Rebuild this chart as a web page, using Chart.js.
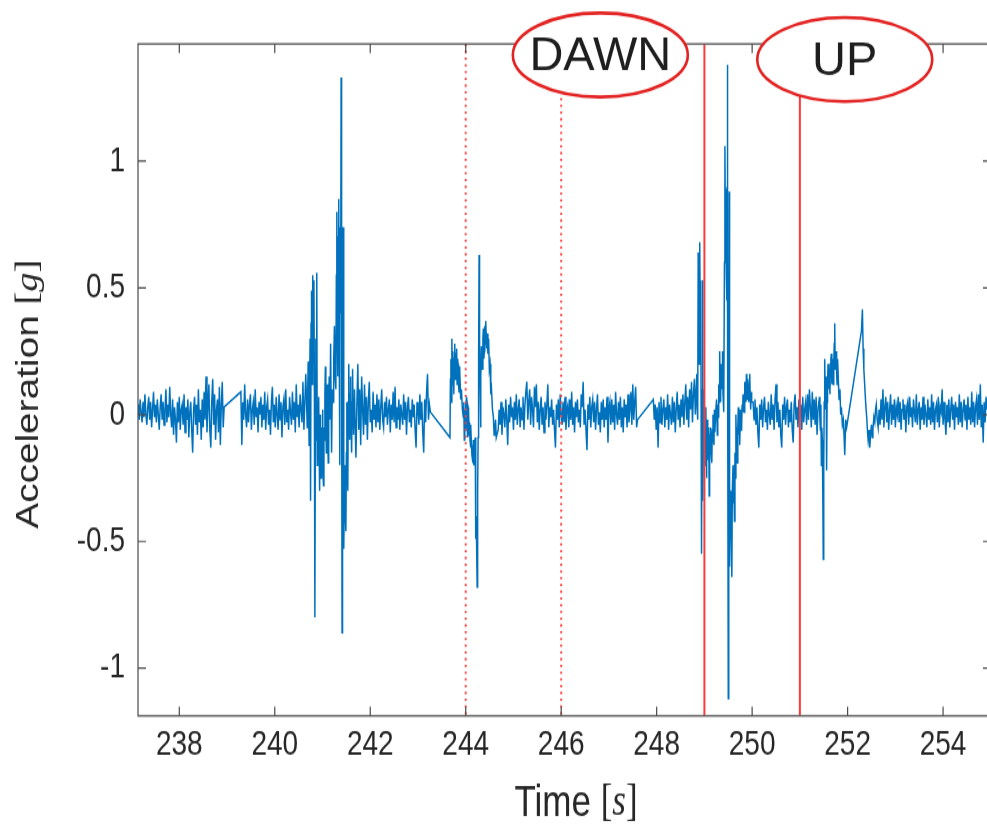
<!DOCTYPE html>
<html>
<head>
<meta charset="utf-8">
<script src="https://cdn.jsdelivr.net/npm/chart.js@4.4.1/dist/chart.umd.min.js"></script>
<style>
  html, body { margin: 0; padding: 0; background: #fff; overflow: hidden; width: 987px; height: 831px; }
  /* the source figure is stretched vertically, so the canvas is too */
  #accelChart { display: block; transform-origin: 0 0; transform: scaleY(1.2496); }
</style>
</head>
<body>
<canvas id="accelChart" width="987" height="665"></canvas>
<script>
const STRETCH = 1.2496;

const xTicks = [238, 240, 242, 244, 246, 248, 250, 252, 254];
const yTicks = [-1, -0.5, 0, 0.5, 1];
const xLimits = [237.135, 254.92];
const yLimits = [-1.188, 1.462];

// quiet stretches, sampled every 0.02 s from the given start
const sampleStep = 0.02;
const quietStarts = [237.14, 239.29, 241.74, 244.68, 247.93, 250.02, 252.68];
const quiet1 = [0.04,-0.02,0.06,0.01,-0.03,0.05,-0.01,0.08,0.0,-0.04,
  0.03,0.07,-0.02,0.05,-0.05,0.02,0.09,-0.01,0.04,-0.03,
  0.06,0.0,-0.06,0.03,0.08,-0.02,0.05,-0.04,0.02,0.1,
  -0.03,0.04,-0.01,0.11,0.0,-0.05,0.06,-0.08,0.03,-0.02,
  -0.11,0.05,-0.03,0.07,-0.06,0.02,0.04,-0.04,0.08,-0.07,
  0.03,-0.02,0.06,-0.09,0.01,0.05,-0.06,-0.15,0.02,0.07,
  -0.04,0.04,-0.08,0.1,-0.03,0.02,-0.1,0.06,-0.05,0.09,
  -0.02,0.15,-0.07,0.03,0.12,-0.06,-0.13,0.05,0.14,-0.04,
  0.08,-0.1,0.02,0.06,-0.07,0.11,-0.12,0.04,0.13,-0.05,
  0.03];
const quiet2 = [0.09,-0.12,0.05,-0.02,0.12,0.0,-0.05,0.06,-0.03,0.04,
  0.08,-0.06,0.02,0.05,-0.04,0.1,-0.01,0.03,-0.07,0.05,
  0.0,0.07,-0.05,0.04,-0.02,0.09,-0.06,0.03,0.06,-0.04,
  0.02,-0.08,0.05,0.11,-0.03,0.04,-0.05,0.07,0.0,-0.06,
  0.08,-0.02,0.05,-0.09,0.03,0.06,-0.04,0.1,-0.03,0.02,
  -0.06,0.07,0.01,-0.04,0.09,-0.02,0.05,-0.07,0.12,-0.01,
  0.04,-0.05,0.08,0.02,-0.03,0.13,-0.06,0.05,0.16];
const quiet3 = [0.2,-0.06,0.1,-0.12,0.15,0.02,-0.08,0.12,-0.04,0.07,
  -0.1,0.05,0.13,-0.03,0.02,-0.07,0.09,-0.02,0.04,-0.05,
  0.08,-0.03,0.06,-0.06,0.03,0.1,-0.02,-0.05,0.05,-0.01,
  0.07,-0.04,0.02,0.06,-0.07,0.04,-0.02,0.09,-0.03,0.11,
  -0.05,0.03,-0.02,0.06,-0.06,0.04,0.0,-0.04,0.08,-0.02,
  0.05,-0.08,0.03,0.07,-0.03,0.02,-0.05,0.06,-0.01,0.04,
  -0.06,-0.13,0.05,0.02,-0.04,0.08,-0.02,0.05,-0.07,-0.15,
  0.06,-0.03,0.09,0.16,-0.02,0.04,0.01];
const quiet4 = [-0.06,0.02,-0.04,0.05,-0.08,0.03,0.0,-0.05,0.06,-0.02,
  -0.12,0.04,-0.03,0.07,-0.01,0.03,-0.06,0.05,-0.02,0.08,
  -0.04,0.02,0.06,-0.05,0.03,-0.02,0.07,-0.06,0.04,0.09,
  0.13,-0.02,0.05,0.1,-0.04,0.07,0.02,-0.05,0.11,0.03,
  0.12,-0.03,0.05,-0.06,0.02,0.07,-0.04,0.03,-0.07,0.05,
  -0.02,0.04,0.12,-0.05,0.03,-0.01,0.06,-0.04,0.02,-0.06,
  -0.13,0.04,-0.02,0.06,-0.05,0.08,0.0,-0.04,0.05,-0.03,
  0.07,-0.06,0.02,0.04,-0.05,0.06,-0.02,0.09,-0.04,0.03,
  -0.07,0.05,-0.01,0.06,-0.03,0.02,-0.05,0.08,0.03,0.13,
  -0.04,0.02,-0.06,-0.14,0.04,-0.02,0.07,-0.05,0.03,0.06,
  -0.03,0.05,-0.06,0.02,0.08,-0.04,0.01,-0.07,0.05,-0.02,
  0.06,-0.05,0.03,-0.02,0.07,-0.11,0.02,0.05,-0.04,0.06,
  -0.03,0.04,-0.06,0.09,0.0,-0.04,0.05,-0.02,0.07,-0.05,
  0.03,-0.07,0.06,-0.01,0.04,-0.05,0.08,-0.03,0.02,0.09,
  -0.04,0.12,-0.02,0.05,0.11,-0.05,-0.02];
const quiet5 = [0.06,-0.02,0.04,-0.06,0.03,-0.13,0.05,-0.03,0.07,-0.04,
  0.02,0.06,-0.05,0.03,-0.02,0.08,-0.06,0.04,0.0,-0.04,
  0.07,-0.03,0.05,-0.07,0.02,0.09,-0.02,0.04,-0.05,0.06,
  -0.01,0.08,-0.04,0.05,0.12,-0.02,0.07,-0.05,0.1,0.02,
  0.13,-0.03,0.08,0.14,0.0];
const quiet6 = [0.05,-0.02,0.06,-0.04,0.03,-0.07,-0.13,0.04,-0.02,0.06,
  -0.05,0.03,0.07,-0.03,0.02,-0.06,0.05,0.0,-0.04,0.08,
  -0.02,0.04,-0.06,0.06,0.12,-0.03,0.05,-0.05,0.02,-0.08,
  -0.13,0.04,-0.02,0.07,-0.04,0.03,0.06,-0.05,0.02,-0.03,
  0.05,-0.06,-0.11,0.04,0.08,-0.02,0.03,-0.05,0.06,-0.01,
  0.04,-0.06,0.07,-0.03,0.02,0.05,-0.04,0.08,-0.02,0.1,
  0.03,-0.05,0.09,-0.02,0.06,-0.04,0.07,-0.08,0.02];
const quiet7 = [-0.04,0.06,-0.02,0.1,-0.05,0.03,0.07,-0.03,0.05,-0.06,
  0.02,0.08,-0.04,0.04,-0.02,0.06,-0.05,0.03,0.0,0.07,
  -0.03,0.05,-0.06,0.02,0.06,-0.02,0.04,-0.07,0.03,0.05,
  -0.04,0.07,-0.01,0.03,-0.05,0.06,0.01,-0.03,0.08,-0.04,
  0.02,0.05,-0.06,0.03,-0.02,0.07,-0.04,0.04,0.0,-0.05,
  0.06,-0.02,0.03,-0.04,0.08,-0.03,0.05,-0.06,0.02,0.04,
  -0.03,0.07,-0.05,0.03,0.01,0.1,-0.04,0.05,-0.02,-0.08,
  0.04,-0.03,0.06,-0.05,0.02,0.07,-0.02,0.04,-0.06,0.05,
  -0.01,0.03,-0.04,0.08,-0.03,0.05,-0.05,0.02,0.06,-0.02,
  0.04,-0.06,0.07,-0.02,0.03,-0.04,0.09,-0.03,0.05,-0.05,
  0.03,0.06,-0.04,0.08,-0.02,0.12,-0.05,0.04,-0.11,0.05,
  -0.03,0.07,0.02];

// bursts, read point by point as [time s, acceleration g]
const burst1 = [[240.68,-0.05],[240.69,0.08],[240.70,0.21],[240.71,0.02],[240.72,-0.12],[240.73,0.10],
  [240.74,0.30],[240.75,-0.34],[240.76,0.36],[240.77,0.49],[240.78,0.12],[240.79,0.55],[240.80,0.30],
  [240.81,0.20],[240.82,0.53],[240.83,0.10],[240.84,-0.80],[240.85,-0.10],[240.86,0.30],[240.87,-0.05],
  [240.88,0.56],[240.89,-0.20],[240.90,-0.10],[240.91,0.05],[240.92,0.07],[240.93,-0.15],[240.94,-0.30],
  [240.95,0.00],[240.96,-0.05],[240.97,-0.25],[240.98,-0.22],[240.99,-0.05],[241.00,0.02],[241.01,-0.20],
  [241.02,-0.28],[241.03,-0.05],[241.04,-0.10],[241.05,0.08],[241.06,0.19],[241.07,-0.05],[241.08,-0.15],
  [241.09,0.05],[241.10,0.12],[241.11,-0.08],[241.12,-0.19],[241.13,0.02],[241.14,0.15],[241.155,-0.02],
  [241.17,0.28],[241.18,0.05],[241.19,-0.15],[241.205,0.10],[241.22,0.05],[241.235,0.22],[241.25,0.35],
  [241.265,0.15],[241.28,0.10],[241.29,0.55],[241.30,0.80],[241.31,0.35],[241.32,0.15],[241.33,0.70],
  [241.34,0.85],[241.35,0.30],[241.36,-0.20],[241.365,0.50],[241.37,0.74],[241.38,0.40],[241.39,1.33],
  [241.40,0.30],[241.41,-0.86],[241.42,0.20],[241.43,0.74],[241.44,-0.10],[241.45,-0.53],[241.46,-0.30],
  [241.47,-0.20],[241.48,-0.40],[241.49,-0.46],[241.50,-0.15],[241.51,0.05],[241.52,-0.20],[241.53,-0.30],
  [241.54,0.05],[241.55,0.20],[241.56,0.00],[241.57,-0.10],[241.58,0.08],[241.59,0.15],[241.60,-0.05],
  [241.61,-0.15],[241.62,0.05],[241.63,0.18],[241.64,0.02],[241.65,-0.08],[241.66,0.06],[241.67,0.10],
  [241.685,-0.05],[241.70,-0.17],[241.72,0.04]];
const burst2 = [[243.67,-0.09],[243.68,0.14],[243.69,0.22],[243.70,0.05],[243.71,0.30],[243.72,0.12],
  [243.73,0.25],[243.74,0.18],[243.75,0.08],[243.76,0.22],[243.77,0.28],[243.78,0.14],[243.79,0.15],
  [243.80,0.24],[243.81,0.26],[243.82,0.12],[243.83,0.22],[243.84,0.20],[243.85,0.12],[243.86,0.09],
  [243.87,0.19],[243.88,0.17],[243.895,0.06],[243.91,0.10],[243.93,0.02],[243.95,-0.01],[243.96,0.05],
  [243.97,-0.10],[243.98,0.02],[243.99,-0.06],[244.00,0.04],[244.02,0.07],[244.03,-0.04],[244.04,-0.09],
  [244.05,0.03],[244.06,0.02],[244.07,-0.08],[244.08,-0.03],[244.09,-0.10],[244.10,-0.13],[244.11,-0.04],
  [244.12,-0.12],[244.13,-0.16],[244.15,-0.19],[244.16,-0.10],[244.17,-0.20],[244.185,-0.12],[244.20,-0.09],
  [244.21,-0.49],[244.22,-0.40],[244.24,-0.68],[244.25,-0.30],[244.26,-0.09],[244.27,0.20],[244.28,0.63],
  [244.29,0.30],[244.30,0.14],[244.31,-0.05],[244.32,0.15],[244.33,0.27],[244.34,0.20],[244.35,0.18],
  [244.36,0.30],[244.37,0.34],[244.38,0.22],[244.39,0.25],[244.40,0.35],[244.41,0.28],[244.42,0.37],
  [244.43,0.30],[244.44,0.26],[244.45,0.32],[244.465,0.24],[244.48,0.30],[244.495,0.18],[244.51,0.20],
  [244.525,0.08],[244.54,0.10],[244.56,0.02],[244.58,-0.01],[244.595,-0.08],[244.61,-0.06],[244.625,-0.02],
  [244.64,-0.09]];
const burst3 = [[248.84,0.16],[248.85,0.02],[248.86,-0.02],[248.87,0.64],[248.88,0.30],[248.89,0.20],
  [248.90,0.55],[248.905,0.68],[248.915,0.30],[248.925,0.53],[248.93,0.10],[248.94,-0.55],[248.95,0.05],
  [248.96,0.53],[248.965,0.10],[248.97,-0.34],[248.98,-0.10],[248.99,0.10],[249.00,-0.15],[249.01,-0.05],
  [249.02,-0.20],[249.03,0.03],[249.04,-0.12],[249.045,-0.25],[249.05,-0.08],[249.06,-0.02],[249.07,-0.18],
  [249.08,-0.15],[249.09,-0.05],[249.10,-0.32],[249.11,-0.12],[249.12,-0.08],[249.13,-0.05],[249.14,-0.15],
  [249.155,-0.19],[249.165,-0.06],[249.18,0.00],[249.19,-0.10],[249.20,-0.12],[249.21,0.02],[249.22,-0.07],
  [249.23,-0.02],[249.24,0.02],[249.255,0.06],[249.27,-0.08],[249.28,0.04],[249.29,-0.01],[249.30,0.12],
  [249.31,0.05],[249.32,0.25],[249.33,0.12],[249.34,0.05],[249.35,0.20],[249.36,0.10],[249.37,0.18],
  [249.38,0.25],[249.39,0.08],[249.40,0.15],[249.41,0.01],[249.42,0.60],[249.43,1.06],[249.44,0.70],
  [249.45,0.89],[249.46,0.55],[249.47,0.45],[249.475,0.90],[249.48,1.38],[249.49,0.40],[249.50,-1.12],
  [249.51,-0.20],[249.52,0.88],[249.525,0.20],[249.53,-0.60],[249.54,-0.30],[249.555,-0.39],[249.565,-0.50],
  [249.575,-0.64],[249.585,-0.30],[249.60,-0.20],[249.61,-0.35],[249.62,-0.25],[249.63,-0.42],[249.64,-0.15],
  [249.65,-0.25],[249.66,0.00],[249.67,-0.12],[249.68,-0.05],[249.69,-0.19],[249.70,-0.05],[249.71,0.03],
  [249.72,-0.08],[249.73,0.02],[249.74,-0.12],[249.75,-0.03],[249.76,0.02],[249.77,-0.06],[249.78,-0.05],
  [249.79,0.04],[249.80,0.01],[249.81,0.08],[249.82,0.03],[249.83,0.01],[249.84,0.10],[249.85,0.13],
  [249.86,0.07],[249.87,0.05],[249.88,0.16],[249.89,0.09],[249.90,0.06],[249.91,0.14],[249.92,0.11],
  [249.93,0.05],[249.94,0.12],[249.95,0.16],[249.96,0.07],[249.97,0.02],[249.98,0.09],[249.99,0.05]];
const burst4 = [[251.41,0.07],[251.42,-0.02],[251.43,-0.06],[251.44,0.04],[251.45,-0.20],[251.46,-0.05],
  [251.47,-0.10],[251.48,-0.30],[251.49,-0.57],[251.50,-0.20],[251.51,0.05],[251.52,0.22],[251.53,0.10],
  [251.54,0.02],[251.55,0.15],[251.56,-0.22],[251.57,0.05],[251.58,0.12],[251.59,0.20],[251.60,0.12],
  [251.61,0.10],[251.62,0.18],[251.63,0.08],[251.64,0.20],[251.65,0.22],[251.66,0.24],[251.67,0.12],
  [251.68,0.14],[251.69,0.22],[251.70,0.12],[251.71,0.20],[251.72,0.28],[251.73,0.36],[251.74,0.18],
  [251.75,0.20],[251.76,0.25],[251.77,0.16],[251.78,0.12],[251.79,0.22],[251.80,0.17],[251.82,0.06],
  [251.84,0.10],[251.855,0.00],[251.87,0.03],[251.89,-0.04],[251.91,-0.02],[251.925,-0.08],[251.94,-0.16],
  [251.96,-0.02],[251.98,-0.05],[252.29,0.33],[252.31,0.415],[252.325,0.26],[252.34,0.18],[252.36,0.11],
  [252.38,0.04],[252.40,-0.01],[252.415,-0.06],[252.43,-0.10],[252.45,-0.06],[252.465,-0.13],[252.48,-0.08],
  [252.50,-0.04],[252.515,-0.09],[252.53,-0.06],[252.55,-0.01],[252.57,-0.03],[252.585,0.02],[252.60,0.04],
  [252.62,-0.02],[252.64,-0.05],[252.66,0.02]];

const cueTimes = [244, 246];   // dotted red markers
const markTimes = [249, 251];  // solid red markers
const tagLabels = ["DAWN", "UP"];
const tagTimes = [246.82, 251.94];

function quietPoints(start, values) {
  return values.map((v, i) => ({ x: +(start + i * sampleStep).toFixed(3), y: v }));
}
function burstPoints(pairs) {
  return pairs.map(([t, v]) => ({ x: t, y: v }));
}

const points = [
  ...quietPoints(quietStarts[0], quiet1),
  ...quietPoints(quietStarts[1], quiet2),
  ...burstPoints(burst1),
  ...quietPoints(quietStarts[2], quiet3),
  ...burstPoints(burst2),
  ...quietPoints(quietStarts[3], quiet4),
  ...quietPoints(quietStarts[4], quiet5),
  ...burstPoints(burst3),
  ...quietPoints(quietStarts[5], quiet6),
  ...burstPoints(burst4),
  ...quietPoints(quietStarts[6], quiet7),
];

function drawParts(ctx, parts, cx, cy) {
  let total = 0;
  parts.forEach((p) => {
    ctx.font = p.font;
    p.w = ctx.measureText(p.text).width;
    total += p.w;
  });
  let px = cx - total / 2;
  parts.forEach((p) => {
    ctx.font = p.font;
    ctx.fillText(p.text, px, cy);
    px += p.w;
  });
}

const overlay = {
  id: "overlay",
  afterDatasetsDraw(chart) {
    const { ctx, chartArea: a, scales: { x } } = chart;
    ctx.save();
    ctx.beginPath();
    ctx.rect(a.left, a.top, a.right - a.left, a.bottom - a.top);
    ctx.clip();
    ctx.strokeStyle = "#ff4040";
    ctx.lineWidth = 2;
    ctx.setLineDash([1.8, 3.6]);
    cueTimes.forEach((t) => {
      const px = x.getPixelForValue(t);
      ctx.beginPath();
      ctx.moveTo(px, a.top);
      ctx.lineTo(px, a.bottom);
      ctx.stroke();
    });
    ctx.setLineDash([]);
    ctx.strokeStyle = "#ff3a3a";
    markTimes.forEach((t) => {
      const px = x.getPixelForValue(t);
      ctx.beginPath();
      ctx.moveTo(px, a.top);
      ctx.lineTo(px, a.bottom);
      ctx.stroke();
    });
    ctx.restore();
  },
  afterDraw(chart) {
    const { ctx, chartArea: a, scales: { x, y } } = chart;
    ctx.save();

    // MATLAB style box with inward ticks
    ctx.strokeStyle = "#4a4a4a";
    ctx.lineWidth = 1.2;
    ctx.beginPath();
    ctx.moveTo(a.right, a.top);
    ctx.lineTo(a.left, a.top);
    ctx.lineTo(a.left, a.bottom);
    ctx.lineTo(a.right, a.bottom);
    xTicks.forEach((v) => {
      const px = x.getPixelForValue(v);
      ctx.moveTo(px, a.bottom);
      ctx.lineTo(px, a.bottom - 7.2);
      ctx.moveTo(px, a.top);
      ctx.lineTo(px, a.top + 7.2);
    });
    yTicks.forEach((v) => {
      const py = y.getPixelForValue(v);
      ctx.moveTo(a.left, py);
      ctx.lineTo(a.left + 8, py);
      ctx.moveTo(a.right, py);
      ctx.lineTo(a.right - 4, py);
    });
    ctx.stroke();

    // circled annotations above the plot
    tagLabels.forEach((label, i) => {
      const cx = x.getPixelForValue(tagTimes[i]);
      const cy = (i === 0 ? 55 : 59.5) / STRETCH;
      ctx.beginPath();
      ctx.ellipse(cx, cy, 87.5, 42 / STRETCH, 0, 0, Math.PI * 2);
      ctx.fillStyle = "#ffffff";
      ctx.fill();
      ctx.strokeStyle = "#e32222";
      ctx.lineWidth = 2.6;
      ctx.stroke();
      ctx.save();
      ctx.translate(cx, cy);
      ctx.scale(1, 1 / STRETCH);
      ctx.fillStyle = "#1e1e1e";
      ctx.font = "47px Arial, 'Liberation Sans', sans-serif";
      ctx.textAlign = "center";
      ctx.textBaseline = "middle";
      ctx.fillText(label, 0, 2);
      ctx.restore();
    });

    // axis titles with italic units
    ctx.fillStyle = "#262626";
    ctx.textAlign = "left";
    ctx.textBaseline = "middle";
    drawParts(ctx, [
      { text: "Time ", font: "35px Arial, 'Liberation Sans', sans-serif" },
      { text: "[", font: "35px 'Liberation Serif', serif" },
      { text: "s", font: "italic 35px 'Liberation Serif', serif" },
      { text: "]", font: "35px 'Liberation Serif', serif" },
    ], 576, 643);

    ctx.save();
    ctx.translate(29, 315.3);
    ctx.rotate(-Math.PI / 2);
    drawParts(ctx, [
      { text: "Acceleration ", font: "31px Arial, 'Liberation Sans', sans-serif" },
      { text: "[", font: "31px 'Liberation Serif', serif" },
      { text: "g", font: "italic 31px 'Liberation Serif', serif" },
      { text: "]", font: "31px 'Liberation Serif', serif" },
    ], 0, 0);
    ctx.restore();

    ctx.restore();
  },
};

const tickFont = { family: "Arial, 'Liberation Sans', sans-serif", size: 28 };

new Chart(document.getElementById("accelChart"), {
  type: "line",
  data: {
    datasets: [
      {
        data: points,
        borderColor: "#0072bd",
        borderWidth: 1.5,
        pointRadius: 0,
        tension: 0,
        fill: false,
      },
    ],
  },
  options: {
    responsive: false,
    devicePixelRatio: 1,
    animation: false,
    events: [],
    layout: { padding: { top: 35.2, right: 0, bottom: 0, left: 0 } },
    plugins: { legend: { display: false }, tooltip: { enabled: false } },
    scales: {
      x: {
        type: "linear",
        min: xLimits[0],
        max: xLimits[1],
        grid: { display: false, drawTicks: false },
        border: { display: false },
        afterBuildTicks: (axis) => {
          axis.ticks = xTicks.map((v) => ({ value: v }));
        },
        afterFit: (axis) => {
          axis.height = 92.2;
        },
        ticks: { font: tickFont, color: "#262626", padding: 7, maxRotation: 0, callback: (v) => String(v) },
      },
      y: {
        type: "linear",
        min: yLimits[0],
        max: yLimits[1],
        grid: { display: false, drawTicks: false },
        border: { display: false },
        afterBuildTicks: (axis) => {
          axis.ticks = yTicks.map((v) => ({ value: v }));
        },
        afterFit: (axis) => {
          axis.width = 138;
        },
        ticks: { font: tickFont, color: "#262626", padding: 13, callback: (v) => String(v) },
      },
    },
  },
  plugins: [overlay],
});
</script>
</body>
</html>
